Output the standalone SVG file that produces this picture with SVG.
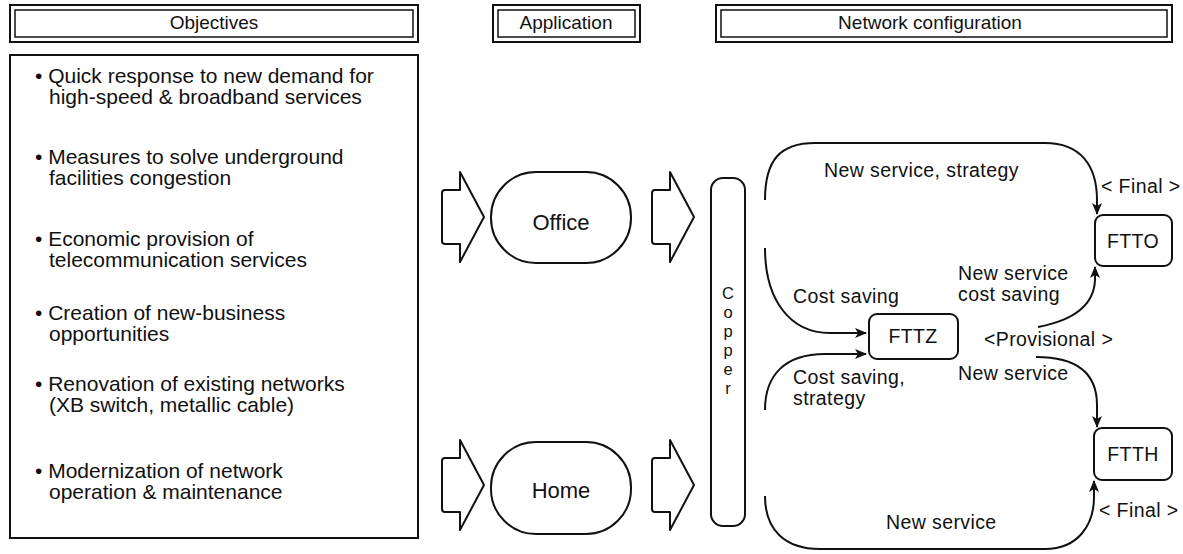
<svg xmlns="http://www.w3.org/2000/svg" width="1183" height="554" viewBox="0 0 1183 554">
  <defs>
    <style>
      text { font-family: "Liberation Sans", Arial, sans-serif; fill: #111; }
      .hdr { font-size: 19px; text-anchor: middle; }
      .txt { font-size: 21px; }
      .lbl { font-size: 19.5px; letter-spacing: 0.4px; }
      .big { font-size: 22px; }
      .cu { font-size: 16.5px; text-anchor: middle; }
      .ctr { text-anchor: middle; }
      .box { fill: #fff; stroke: #111; stroke-width: 2; }
      .thin { fill: none; stroke: #111; stroke-width: 1.5; }
      .blk { fill: #fff; stroke: #111; stroke-width: 2; stroke-linejoin: round; }
      .flow { fill: none; stroke: #111; stroke-width: 2; }
    </style>
    <marker id="ah" viewBox="0 0 12 10" refX="11" refY="5" markerWidth="12" markerHeight="10" markerUnits="userSpaceOnUse" orient="auto">
      <path d="M0,0 L12,5 L0,10 L3,5 Z" fill="#111"/>
    </marker>
    <path id="blockArrow" d="M0,21 Q0,18 3,18 L18,18 L18,0 L42,45 L18,90 L18,72 L3,72 Q0,72 0,69 Z"/>
  </defs>
  <rect width="1183" height="554" fill="#fff"/>

  <!-- column headers -->
  <g id="hdr-objectives">
    <rect class="box" x="10" y="5" width="408" height="37"/>
    <rect class="thin" x="15" y="10" width="398" height="27"/>
    <text class="hdr" x="214" y="29">Objectives</text>
  </g>
  <g id="hdr-application">
    <rect class="box" x="493" y="5" width="147" height="37"/>
    <rect class="thin" x="498" y="10" width="137" height="27"/>
    <text class="hdr" x="566" y="29">Application</text>
  </g>
  <g id="hdr-network">
    <rect class="box" x="716" y="5" width="456" height="37"/>
    <rect class="thin" x="721" y="10" width="446" height="27"/>
    <text class="hdr" x="930" y="29">Network configuration</text>
  </g>

  <!-- objectives list -->
  <g id="objectives">
    <rect class="box" x="10" y="55" width="408" height="483"/>
    <g class="txt">
      <text x="35" y="83">• Quick response to new demand for</text>
      <text x="49" y="104">high-speed &amp; broadband services</text>
      <text x="35" y="164">• Measures to solve underground</text>
      <text x="49" y="185">facilities congestion</text>
      <text x="35" y="246">• Economic provision of</text>
      <text x="49" y="267">telecommunication services</text>
      <text x="35" y="320">• Creation of new-business</text>
      <text x="49" y="341">opportunities</text>
      <text x="35" y="391">• Renovation of existing networks</text>
      <text x="49" y="412">(XB switch, metallic cable)</text>
      <text x="35" y="478">• Modernization of network</text>
      <text x="49" y="499">operation &amp; maintenance</text>
    </g>
  </g>

  <!-- application -->
  <g id="arrow-in-office"><use href="#blockArrow" class="blk" x="442" y="172"/></g>
  <g id="office">
    <rect class="box" x="491" y="172" width="140" height="91" rx="45" ry="45"/>
    <text class="big ctr" x="561" y="230">Office</text>
  </g>
  <g id="arrow-out-office"><use href="#blockArrow" class="blk" x="652" y="172"/></g>

  <g id="arrow-in-home"><use href="#blockArrow" class="blk" x="442" y="440"/></g>
  <g id="home">
    <rect class="box" x="491" y="442" width="140" height="92" rx="45" ry="45"/>
    <text class="big ctr" x="561" y="498">Home</text>
  </g>
  <g id="arrow-out-home"><use href="#blockArrow" class="blk" x="652" y="440"/></g>

  <g id="copper">
    <rect class="box" x="711" y="178" width="34" height="348" rx="12" ry="12"/>
    <g class="cu">
      <text x="728" y="299">C</text>
      <text x="728" y="318">o</text>
      <text x="728" y="337">p</text>
      <text x="728" y="356">p</text>
      <text x="728" y="375">e</text>
      <text x="728" y="394">r</text>
    </g>
  </g>

  <!-- network nodes -->
  <g id="ftto">
    <rect class="box" x="1095" y="215" width="77" height="51" rx="8" ry="8"/>
    <text class="lbl ctr" x="1133" y="248">FTTO</text>
  </g>
  <g id="fttz">
    <rect class="box" x="869" y="314" width="89" height="45" rx="8" ry="8"/>
    <text class="lbl ctr" x="913" y="343">FTTZ</text>
  </g>
  <g id="ftth">
    <rect class="box" x="1094" y="428" width="78" height="52" rx="8" ry="8"/>
    <text class="lbl ctr" x="1133" y="461">FTTH</text>
  </g>

  <!-- migration paths -->
  <g id="connectors">
    <path class="flow" d="M765,200 C765,160 780,143 815,143 L1045,143 C1080,143 1097,165 1097,200 L1097,214" marker-end="url(#ah)"/>
    <path class="flow" d="M765,248 C765,300 790,333 830,333 L866,333" marker-end="url(#ah)"/>
    <path class="flow" d="M765,410 C765,375 785,354 825,354 L866,354" marker-end="url(#ah)"/>
    <path class="flow" d="M1038,327 C1075,320 1094,305 1095,280 L1095,267" marker-end="url(#ah)"/>
    <path class="flow" d="M1036,357 C1076,357 1097,372 1097,405 L1097,427" marker-end="url(#ah)"/>
    <path class="flow" d="M765,496 C765,530 785,549 820,549 L1045,549 C1078,549 1094,525 1094,497 L1094,481" marker-end="url(#ah)"/>
  </g>

  <!-- path labels -->
  <g id="labels" class="lbl">
    <text x="824" y="177">New service, strategy</text>
    <text x="1101" y="193">&lt; Final &gt;</text>
    <text x="958" y="280">New service</text>
    <text x="958" y="301">cost saving</text>
    <text x="793" y="303">Cost saving</text>
    <text x="984" y="346">&lt;Provisional &gt;</text>
    <text x="958" y="380">New service</text>
    <text x="793" y="384">Cost saving,</text>
    <text x="793" y="405">strategy</text>
    <text x="886" y="529">New service</text>
    <text x="1099" y="517">&lt; Final &gt;</text>
  </g>
</svg>
